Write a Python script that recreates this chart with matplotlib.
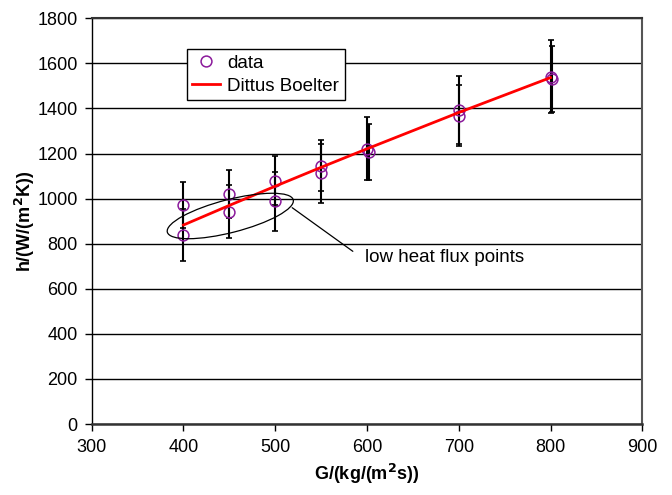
import matplotlib
matplotlib.use("Agg")
import matplotlib.pyplot as plt
from matplotlib.patches import Ellipse
from matplotlib.transforms import ScaledTranslation

plt.rcParams['font.family'] = ['Liberation Sans', 'DejaVu Sans']

# Data series A (upper points at each G)
G_a = [400, 450, 500, 550, 600, 700, 800]
h_a = [970, 1021, 1080, 1146, 1222, 1393, 1541]
err_a = [102, 106, 109, 112, 140, 151, 162]
# Data series B (lower points at each G)
G_b = [400, 450, 500, 550, 602, 700, 802]
h_b = [840, 942, 988, 1112, 1207, 1368, 1531]
err_b = [115, 118, 132, 130, 123, 135, 147]
# Dittus Boelter correlation
G_db = [400, 450, 500, 550, 600, 700, 800]
h_db = [883, 970, 1055, 1139, 1221, 1382, 1537]

x_ticks = [300, 400, 500, 600, 700, 800, 900]
y_ticks = [0, 200, 400, 600, 800, 1000, 1200, 1400, 1600, 1800]

fig = plt.figure(figsize=(6.72, 4.95), dpi=100)
ax = fig.add_axes([0.1365, 0.1434, 0.8193, 0.8196])

ax.set_xlim(300, 900)
ax.set_ylim(0, 1800)
ax.set_xticks(x_ticks)
ax.set_yticks(y_ticks)
ax.yaxis.grid(True, color='black', lw=1.0)
ax.set_axisbelow(True)

for G, h, e in [(G_a, h_a, err_a), (G_b, h_b, err_b)]:
    ax.errorbar(G, h, yerr=e, fmt='none', ecolor='black', elinewidth=1.5,
                capsize=2.4, capthick=1.2, zorder=3)

ax.plot(G_a + G_b, h_a + h_b, linestyle='none', marker='o', markersize=7.8,
        markerfacecolor='none', markeredgecolor='#8B1A9B', markeredgewidth=1.1,
        label='data', zorder=4)
ax.plot(G_db, h_db, color='#FF0000', lw=2.0, label='Dittus Boelter', zorder=5)

# ellipse around low heat flux points
tr = fig.dpi_scale_trans + ScaledTranslation(451, 923, ax.transData)
ell = Ellipse((0, 0), 1.30, 0.33, angle=14.4, transform=tr, fill=False,
              edgecolor='black', lw=0.9, zorder=6)
ax.add_patch(ell)
ax.annotate('', xy=(516, 967), xytext=(587, 759),
            arrowprops=dict(arrowstyle='-', color='black', lw=0.9), zorder=6)
ax.text(598, 737, 'low heat flux points', fontsize=13.5, va='center', ha='left')

ax.spines['left'].set_color('black')
ax.spines['left'].set_linewidth(1.0)
ax.spines['bottom'].set_color('#333333')
ax.spines['bottom'].set_linewidth(1.8)
ax.spines['right'].set_color('#555555')
ax.spines['right'].set_linewidth(1.5)
ax.spines['top'].set_color('#333333')
ax.spines['top'].set_linewidth(1.5)

ax.tick_params(axis='both', direction='out', length=5, width=1, labelsize=13,
               colors='black')
ax.tick_params(axis='x', pad=6)
ax.tick_params(axis='y', pad=5)

ax.set_xlabel('G/(kg/(m$^\\mathbf{2}$s))', fontsize=13, fontweight='bold', labelpad=4)
ax.set_ylabel('h/(W/(m$^\\mathbf{2}$K))', fontsize=13, fontweight='bold', labelpad=0)

leg = ax.legend(loc='upper left', bbox_to_anchor=(0.1725, 0.9236), borderaxespad=0,
                fancybox=False, edgecolor='black', framealpha=1, fontsize=13.5,
                handlelength=1.5, handletextpad=0.35, borderpad=0.3, labelspacing=0.3)
leg.get_frame().set_linewidth(1.0)
leg.set_zorder(10)

fig.savefig('out.png', dpi=100)
